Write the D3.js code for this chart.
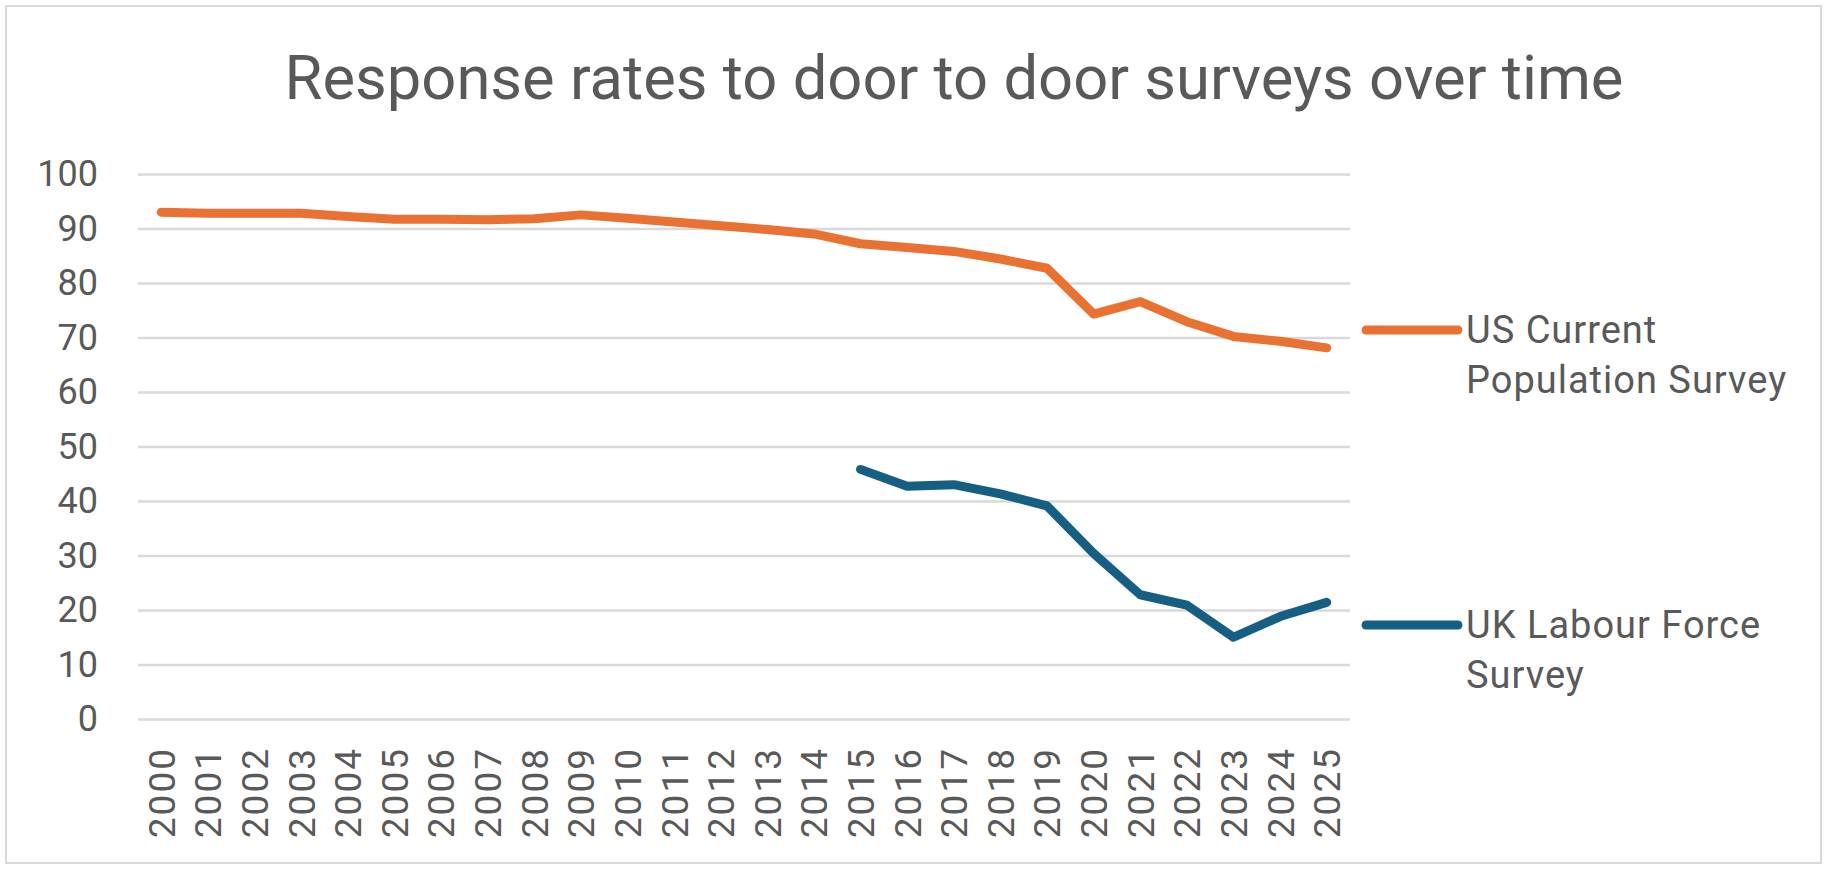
<!DOCTYPE html>
<html>
<head>
<meta charset="utf-8">
<script src="https://cdn.jsdelivr.net/npm/d3@7"></script>
<style>
  body { margin: 0; background: #fff; }
  svg { display: block; font-family: Roboto, "Liberation Sans", sans-serif; }
</style>
</head>
<body>
<div id="chart"></div>
<script>
// Data
const years = ["2000","2001","2002","2003","2004","2005","2006","2007","2008","2009",
  "2010","2011","2012","2013","2014","2015","2016","2017","2018","2019",
  "2020","2021","2022","2023","2024","2025"];
const usCPS = [93.0, 92.8, 92.8, 92.8, 92.2, 91.7, 91.7, 91.6, 91.8, 92.5,
  91.9, 91.2, 90.5, 89.8, 89.0, 87.2, 86.5, 85.8, 84.4, 82.7,
  74.3, 76.6, 72.9, 70.2, 69.3, 68.1];
const ukLFS = [null, null, null, null, null, null, null, null, null, null,
  null, null, null, null, null, 45.8, 42.7, 43.0, 41.3, 39.1,
  30.4, 22.8, 20.9, 15.0, 18.8, 21.4];
const yTicks = [0, 10, 20, 30, 40, 50, 60, 70, 80, 90, 100];
const seriesNames = [["US Current", "Population Survey"], ["UK Labour Force", "Survey"]];
const seriesColors = ["#E97132", "#156082"];

const W = 1828, H = 870;
const plot = { left: 138, right: 1350, top: 174, bottom: 719 };
const textColor = "#595959";
const gridColor = "#D9D9D9";

const svg = d3.select("#chart")
  .append("svg")
  .attr("width", W)
  .attr("height", H);

// outer chart border
svg.append("rect")
  .attr("x", 6).attr("y", 6)
  .attr("width", W - 13).attr("height", H - 13)
  .attr("fill", "#fff")
  .attr("stroke", gridColor)
  .attr("stroke-width", 2);

const x = d3.scalePoint()
  .domain(years)
  .range([plot.left, plot.right])
  .padding(0.5);

const y = d3.scaleLinear()
  .domain([0, 100])
  .range([plot.bottom, plot.top]);

// gridlines
svg.append("g")
  .attr("transform", "translate(" + plot.left + ",0)")
  .call(d3.axisLeft(y).tickValues(yTicks).tickSize(-(plot.right - plot.left)).tickFormat(""))
  .call(g => g.select(".domain").remove())
  .call(g => g.selectAll("line").attr("stroke", gridColor).attr("stroke-width", 2.5));

// y labels
svg.append("g")
  .attr("transform", "translate(" + plot.left + ",0)")
  .call(d3.axisLeft(y).tickValues(yTicks).tickSize(0).tickPadding(40))
  .call(g => g.select(".domain").remove())
  .call(g => g.selectAll("text")
    .attr("fill", textColor)
    .style("font-size", "36px")
    .style("font-family", "Roboto, sans-serif"));

// x labels, rotated
svg.append("g")
  .attr("transform", "translate(0," + plot.bottom + ")")
  .call(d3.axisBottom(x).tickSize(0))
  .call(g => g.select(".domain").remove())
  .call(g => g.selectAll("text")
    .attr("transform", "rotate(-90)")
    .attr("x", -28)
    .attr("y", 0)
    .attr("dy", "0.35em")
    .attr("text-anchor", "end")
    .attr("fill", textColor)
    .style("font-size", "37px")
    .style("letter-spacing", "2px")
    .style("font-family", "Roboto, sans-serif"));

// lines
const line = d3.line()
  .defined(d => d.v != null)
  .x(d => x(d.year))
  .y(d => y(d.v));

[usCPS, ukLFS].forEach(function(vals, i) {
  const pts = years.map((yr, j) => ({ year: yr, v: vals[j] }));
  svg.append("path")
    .datum(pts)
    .attr("d", line)
    .attr("fill", "none")
    .attr("stroke", seriesColors[i])
    .attr("stroke-width", 9)
    .attr("stroke-linecap", "round")
    .attr("stroke-linejoin", "round");
});

// title
svg.append("text")
  .attr("x", 954)
  .attr("y", 99)
  .attr("text-anchor", "middle")
  .attr("fill", textColor)
  .style("font-size", "61.5px")
  .text("Response rates to door to door surveys over time");

// legend
const legendY = [330, 625];
seriesNames.forEach(function(lines, i) {
  const lg = svg.append("g").attr("transform", "translate(1366," + legendY[i] + ")");
  lg.append("line")
    .attr("x1", 0).attr("x2", 92)
    .attr("stroke", seriesColors[i])
    .attr("stroke-width", 9)
    .attr("stroke-linecap", "round");
  lg.selectAll("text")
    .data(lines)
    .enter().append("text")
    .attr("x", 100)
    .attr("y", (d, k) => 13 + k * 50)
    .attr("fill", textColor)
    .style("font-size", "38px")
    .style("letter-spacing", "1px")
    .text(d => d);
});
</script>
</body>
</html>
